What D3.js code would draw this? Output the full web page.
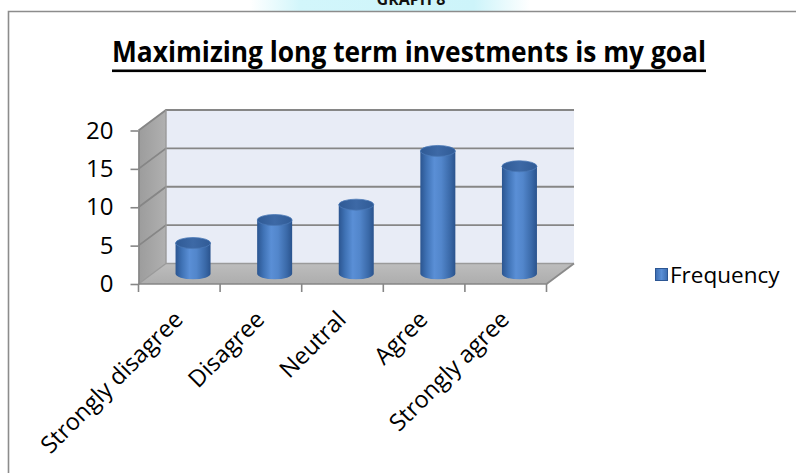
<!DOCTYPE html>
<html>
<head>
<meta charset="utf-8">
<script src="https://cdn.jsdelivr.net/npm/d3@7"></script>
<style>
  body { margin: 0; background: #fff; }
  svg { display: block; }
</style>
</head>
<body>
<svg id="chart" width="796" height="473"></svg>
<script>
// ---- data ----
const categories = ["Strongly disagree", "Disagree", "Neutral", "Agree", "Strongly agree"];
const frequency = [4, 7, 9, 16, 14];
const yTicks = [0, 5, 10, 15, 20];
const seriesName = "Frequency";
const chartTitle = "Maximizing long term investments is my goal";
const headerText = "GRAPH 8";

// ---- setup ----
const svg = d3.select("#chart");
const W = 796, H = 473;
const FONT = "'Open Sans', 'DejaVu Sans', sans-serif";
const defs = svg.append("defs");

// plot box (front plane) and 3-D depth offset
const x0 = 138.5, x1 = 546.5, yBase = 284, yTopPx = 130.5;
const DX = 27.5, DY = -20.5;

const x = d3.scaleBand().domain(categories).range([x0, x1]);
const y = d3.scaleLinear().domain([0, 20]).range([yBase, yTopPx]);

// ---- header strip ----
const hg = defs.append("linearGradient").attr("id", "hdr").attr("x1", 0).attr("x2", 1);
hg.append("stop").attr("offset", "0%").attr("stop-color", "#ffffff");
hg.append("stop").attr("offset", "18%").attr("stop-color", "#d2f6fb");
hg.append("stop").attr("offset", "80%").attr("stop-color", "#cdf4fa");
hg.append("stop").attr("offset", "100%").attr("stop-color", "#ffffff");
svg.append("rect").attr("x", 250).attr("y", 0).attr("width", 280).attr("height", 11)
  .attr("fill", "url(#hdr)");
svg.append("text").attr("x", 411).attr("y", 5)
  .attr("text-anchor", "middle")
  .style("font-family", FONT).style("font-weight", 700).style("font-size", "16px")
  .attr("fill", "#111").text(headerText);

// ---- outer frame ----
svg.append("path")
  .attr("d", `M8.5,${H + 2}V11.5H${W + 2}`)
  .attr("fill", "none").attr("stroke", "#8c8c8c").attr("stroke-width", 1.6);

// ---- title ----
svg.append("text")
  .attr("x", 409).attr("y", 62)
  .attr("text-anchor", "middle")
  .attr("textLength", 594).attr("lengthAdjust", "spacingAndGlyphs")
  .style("font-family", FONT).style("font-weight", 700).style("font-size", "28px")
  .attr("fill", "#000").text(chartTitle);
svg.append("rect").attr("x", 112).attr("y", 69.5).attr("width", 594).attr("height", 2.6)
  .attr("fill", "#000");

// ---- walls ----
const lw = defs.append("linearGradient").attr("id", "leftWall").attr("x1", 0).attr("x2", 1);
lw.append("stop").attr("offset", "0%").attr("stop-color", "#9c9c9c");
lw.append("stop").attr("offset", "100%").attr("stop-color", "#b0b0b0");
const fl = defs.append("linearGradient").attr("id", "floor").attr("x1", 0).attr("y1", 0).attr("x2", 0).attr("y2", 1);
fl.append("stop").attr("offset", "0%").attr("stop-color", "#bdbdbd");
fl.append("stop").attr("offset", "100%").attr("stop-color", "#adadad");

const poly = pts => "M" + pts.map(p => p.join(",")).join("L") + "Z";

// back wall
svg.append("path")
  .attr("d", poly([[x0 + DX, y(0) + DY], [x1 + DX, y(0) + DY], [x1 + DX, y(20) + DY], [x0 + DX, y(20) + DY]]))
  .attr("fill", "#e8ecf6");
// left side wall
svg.append("path")
  .attr("d", poly([[x0, y(0)], [x0 + DX, y(0) + DY], [x0 + DX, y(20) + DY], [x0, y(20)]]))
  .attr("fill", "url(#leftWall)");
// floor
svg.append("path")
  .attr("d", poly([[x0, y(0)], [x1, y(0)], [x1 + DX, y(0) + DY], [x0 + DX, y(0) + DY]]))
  .attr("fill", "url(#floor)");

// gridlines (side wall + back wall)
const grid = svg.append("g").attr("stroke", "#868686").attr("stroke-width", 1.8).attr("fill", "none");
yTicks.filter(v => v > 0).forEach(v => {
  grid.append("path")
    .attr("d", `M${x0},${y(v)}L${x0 + DX},${y(v) + DY}L${x1 + DX},${y(v) + DY}`);
});
// floor/wall edges
const edges = svg.append("g").attr("stroke", "#9a9a9a").attr("stroke-width", 1.4).attr("fill", "none");
edges.append("path").attr("d", `M${x0 + DX},${y(20) + DY}V${y(0) + DY}L${x0},${y(0)}`);
edges.append("path").attr("d", `M${x0 + DX},${y(0) + DY}H${x1 + DX}`);
svg.append("path")
  .attr("d", `M${x1},${y(0)}L${x1 + DX},${y(0) + DY}`)
  .attr("stroke", "#8a8a8a").attr("stroke-width", 1.8).attr("fill", "none");

// ---- cylinders ----
const bodyGrad = defs.append("linearGradient").attr("id", "cylBody").attr("x1", 0).attr("x2", 1);
[["0%", "#2b5590"], ["18%", "#3f72b5"], ["40%", "#5a8fd6"], ["60%", "#5286cb"], ["85%", "#3a69a8"], ["100%", "#2a538d"]]
  .forEach(([o, c]) => bodyGrad.append("stop").attr("offset", o).attr("stop-color", c));
const topGrad = defs.append("linearGradient").attr("id", "cylTop").attr("x1", 0).attr("x2", 1);
[["0%", "#2f5a95"], ["50%", "#3d69a6"], ["100%", "#305b96"]]
  .forEach(([o, c]) => topGrad.append("stop").attr("offset", o).attr("stop-color", c));

const RX = 17.5, RY = 5.5;
const bars = svg.append("g").selectAll("g").data(categories.map((c, i) => ({ c, v: frequency[i] })))
  .join("g");
bars.each(function (d) {
  const g = d3.select(this);
  const cx = x(d.c) + x.bandwidth() / 2 + DX / 2;
  const yb = y(0) + DY / 2;
  const yt = y(d.v) + DY / 2;
  g.append("path")
    .attr("d", `M${cx - RX},${yt}V${yb}A${RX},${RY} 0 0 0 ${cx + RX},${yb}V${yt}Z`)
    .attr("fill", "url(#cylBody)");
  g.append("ellipse")
    .attr("cx", cx).attr("cy", yt).attr("rx", RX).attr("ry", RY)
    .attr("fill", "url(#cylTop)").attr("stroke", "#4a78b6").attr("stroke-width", 0.8);
});

// ---- axes ----
const AXIS_COLOR = "#868686";
const yAxis = svg.append("g").attr("transform", `translate(${x0},0)`)
  .call(d3.axisLeft(y).tickValues(yTicks).tickSize(8).tickPadding(17).tickSizeOuter(0));
yAxis.select(".domain").attr("stroke", AXIS_COLOR).attr("stroke-width", 1.6);
yAxis.selectAll(".tick line").attr("stroke", AXIS_COLOR).attr("stroke-width", 1.6);
yAxis.selectAll(".tick text")
  .style("font-family", FONT).style("font-size", "24px").attr("fill", "#000");

// category axis along the floor's front edge
const xAxis = svg.append("g").attr("transform", `translate(0,${yBase})`);
xAxis.append("path").attr("d", `M${x0},0H${x1}`).attr("stroke", AXIS_COLOR).attr("stroke-width", 1.6);
const edgesX = categories.map(c => x(c)).concat([x1]);
xAxis.selectAll("line").data(edgesX).join("line")
  .attr("x1", d => d).attr("x2", d => d).attr("y1", 0).attr("y2", 8)
  .attr("stroke", AXIS_COLOR).attr("stroke-width", 1.6);
xAxis.selectAll("text").data(categories).join("text")
  .attr("transform", d => `translate(${x(d) + x.bandwidth() / 2 + 5},${37}) rotate(-45)`)
  .attr("text-anchor", "end")
  .style("font-family", FONT).style("font-size", "23.5px").attr("fill", "#000")
  .text(d => d);

// ---- legend ----
const leg = svg.append("g").attr("transform", "translate(655,268)");
const lg = defs.append("linearGradient").attr("id", "legSw").attr("x1", 0).attr("x2", 1);
lg.append("stop").attr("offset", "0%").attr("stop-color", "#3b6cb0");
lg.append("stop").attr("offset", "50%").attr("stop-color", "#5a8fd6");
lg.append("stop").attr("offset", "100%").attr("stop-color", "#3b6cb0");
leg.append("rect").attr("x", 0.5).attr("y", 0.5).attr("width", 12).attr("height", 12)
  .attr("fill", "url(#legSw)").attr("stroke", "#2c5693").attr("stroke-width", 1);
leg.append("text").attr("x", 15).attr("y", 15)
  .style("font-family", FONT).style("font-size", "22.5px").attr("fill", "#000")
  .text(seriesName);
</script>
</body>
</html>
